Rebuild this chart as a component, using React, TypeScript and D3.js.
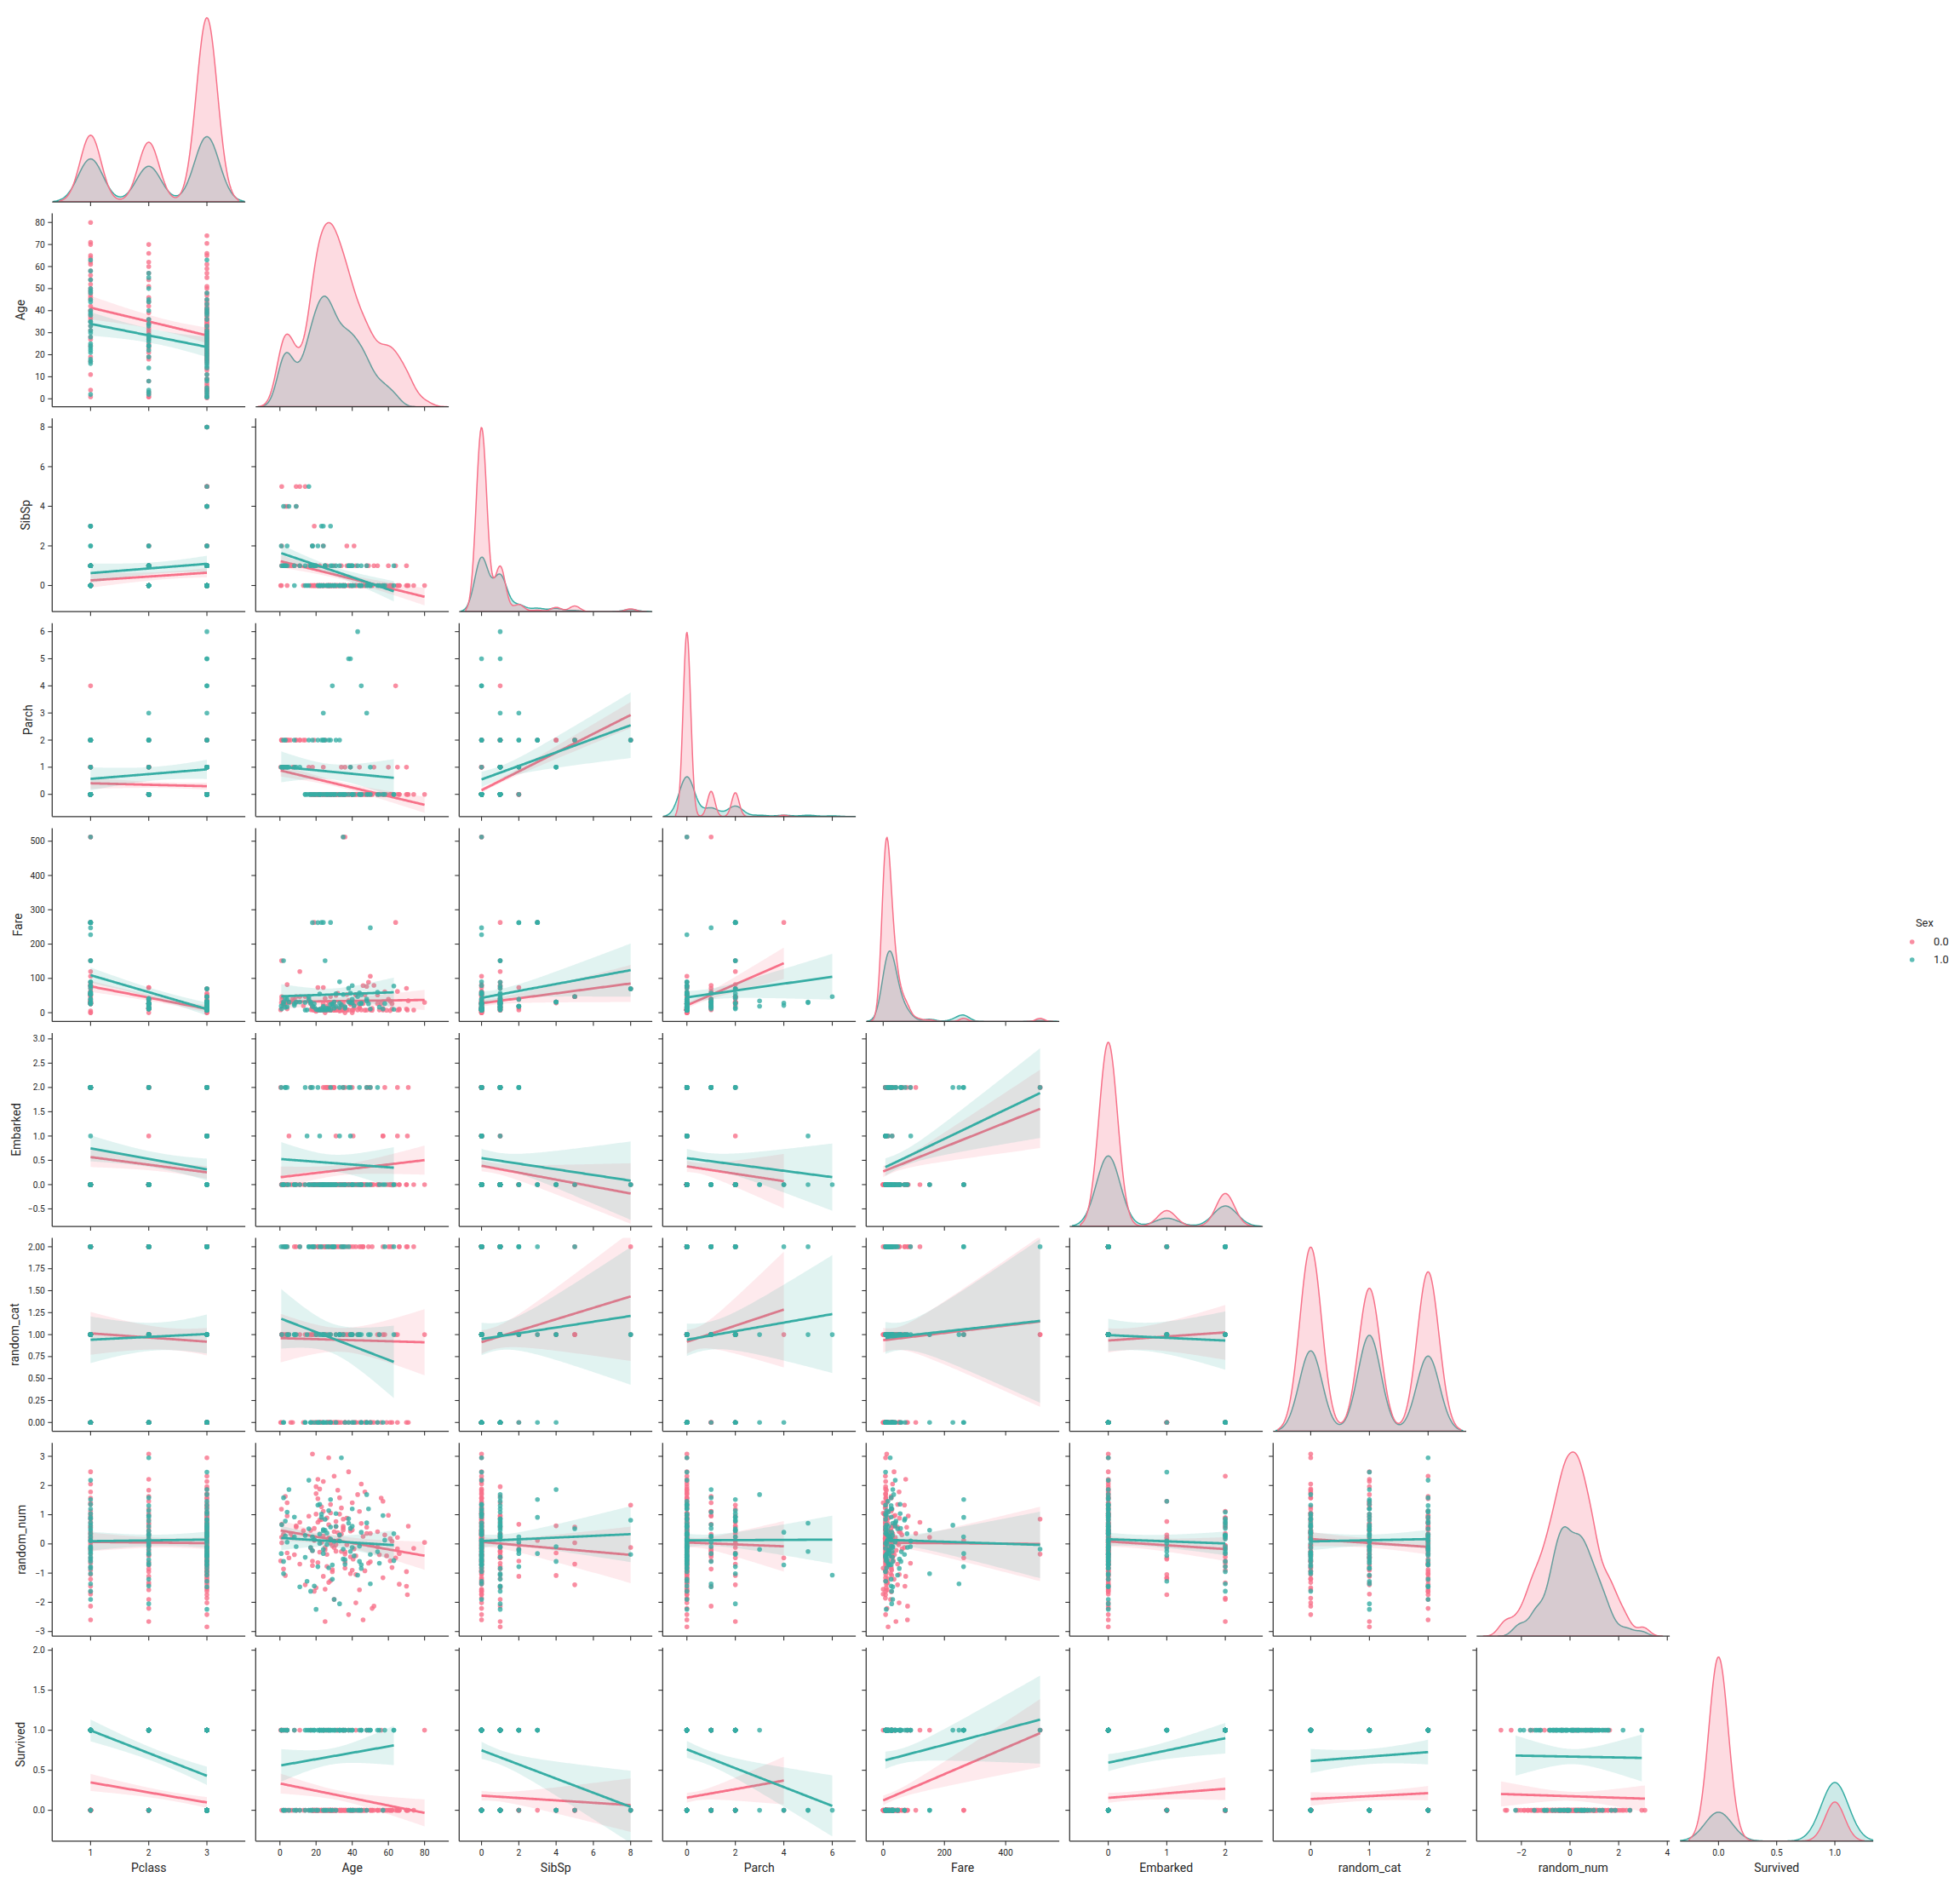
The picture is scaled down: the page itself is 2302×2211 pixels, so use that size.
import React, { useMemo } from "react";
import * as d3 from "d3";

// variables of the pair grid, in order
const VARS = ["Pclass", "Age", "SibSp", "Parch", "Fare", "Embarked", "random_cat", "random_num", "Survived"];
const SEX_LABELS = ["0.0", "1.0"];
const PALETTE = ["#f77189", "#36ada4"];

// each passenger row: [Age, SibSp, Parch, Fare, Embarked, Survived, random_cat, random_num]
const ROW_FIELDS = ["Age", "SibSp", "Parch", "Fare", "Embarked", "Survived", "random_cat", "random_num"];

const maleClass1 = [
  [54, 0, 0, 51.86, 0, 0, 0, 0.42], [null, 0, 0, 35.5, 0, 1, 0, -1.21], [28, 0, 0, 47.1, 0, 0, 1, 1.35],
  [19, 3, 2, 263, 0, 0, 1, 0.12], [64, 1, 4, 263, 0, 0, 1, -0.48], [40, 0, 0, 27.72, 2, 0, 1, -0.9],
  [71, 0, 0, 34.65, 2, 0, 0, 0.61], [47, 0, 0, 52, 0, 0, 0, 1.78], [36, 0, 1, 512.33, 2, 1, 1, -0.35],
  [35, 0, 0, 512.33, 2, 1, 1, 0.85], [0.92, 1, 2, 151.55, 0, 1, 1, 0.23], [null, 0, 0, 26.55, 0, 1, 2, -1.64],
  [45, 0, 0, 30.7, 0, 0, 0, 2.05], [65, 0, 1, 61.98, 2, 0, 1, -0.17], [11, 1, 2, 120, 0, 1, 2, 0.74],
  [52, 1, 1, 79.65, 0, 0, 0, -2.13], [80, 0, 0, 30, 0, 1, 1, 0.05], [49, 1, 0, 89.1, 2, 1, 2, -0.66],
  [24, 0, 1, 26.29, 2, 0, 2, 1.12], [58, 0, 0, 61.18, 2, 0, 1, 0.31], [42, 1, 0, 52.55, 0, 1, 2, -1.05],
  [56, 0, 0, 26.55, 0, 1, 0, 1.57], [null, 0, 0, 42.4, 0, 0, 1, -0.22], [4, 0, 2, 81.86, 0, 1, 2, 0.96],
  [62, 0, 0, 26.55, 0, 0, 0, -0.81], [38, 0, 0, 35.5, 0, 0, 1, 2.47], [31, 0, 0, 50.5, 0, 0, 0, -0.03],
  [48, 1, 0, 76.73, 2, 1, 0, 0.57], [70, 1, 1, 71, 0, 0, 2, -1.45], [27, 0, 0, 30.5, 2, 1, 2, 0.19],
  [46, 0, 0, 79.2, 0, 0, 2, -2.6], [33, 0, 0, 5, 0, 0, 1, 1.02], [61, 0, 0, 33.5, 0, 0, 0, -0.58],
  [37, 1, 0, 53.1, 0, 0, 2, 0.88], [null, 0, 0, 0, 0, 0, 1, -1.72], [50, 0, 0, 106.43, 2, 0, 0, 0.36],
  [17, 0, 0, 26.55, 2, 1, 2, -0.14], [40, 0, 0, 0, 0, 0, 1, 1.41],
];

const maleClass2 = [
  [35, 0, 0, 26, 0, 0, 1, 0.55], [null, 0, 0, 13, 0, 0, 2, -0.73], [0.83, 0, 2, 29, 0, 1, 0, 1.19],
  [66, 0, 0, 10.5, 0, 0, 2, -1.38], [28, 0, 0, 13, 0, 0, 2, 0.02], [42, 0, 0, 26, 0, 0, 0, -0.41],
  [21, 0, 0, 73.5, 0, 0, 1, 2.21], [30, 1, 0, 24, 2, 0, 2, -1.9], [23, 0, 0, 13, 0, 0, 0, 0.83],
  [54, 1, 0, 26, 0, 0, 1, -0.1], [3, 1, 1, 26, 0, 1, 2, 1.63], [70, 0, 0, 10.5, 0, 0, 0, -0.95],
  [34, 0, 0, 21, 0, 0, 2, 0.34], [25, 1, 2, 41.58, 2, 0, 1, -2.66], [null, 0, 0, 0, 0, 0, 0, 1.05],
  [31, 0, 0, 13, 0, 1, 2, -0.25], [1, 2, 1, 39, 0, 1, 1, 0.67], [44, 0, 0, 13, 0, 0, 0, -1.57],
  [19, 0, 0, 10.5, 0, 0, 2, 0.15], [57, 0, 0, 12.35, 1, 0, 1, 1.46], [36, 0, 0, 13, 0, 0, 0, -0.62],
  [60, 1, 1, 39, 0, 0, 2, 0.98], [24, 2, 0, 73.5, 0, 0, 1, -1.11], [18, 0, 0, 11.5, 0, 0, 0, 3.08],
  [8, 1, 1, 36.75, 0, 1, 2, -0.37], [39, 0, 0, 26, 0, 0, 1, 0.44], [29, 0, 0, 27.72, 2, 0, 0, -0.06],
  [51, 0, 0, 12.53, 0, 0, 2, -2.21], [null, 0, 0, 15.05, 2, 0, 1, 0.71], [32, 0, 0, 10.5, 0, 0, 0, 1.84],
  [2, 1, 1, 26, 0, 1, 1, -0.86], [46, 0, 0, 26, 0, 0, 2, 0.26], [27, 0, 0, 13, 0, 0, 0, -1.32],
  [62, 0, 0, 10.5, 0, 0, 2, 0.09],
];

const maleClass3 = [
  [22, 1, 0, 7.25, 0, 0, 0, -0.28], [35, 0, 0, 8.05, 0, 0, 2, 0.61], [null, 0, 0, 8.46, 1, 0, 0, -1.05],
  [2, 1, 1, 21.08, 0, 0, 2, 0.33], [20, 0, 0, 8.05, 0, 0, 0, 1.72], [39, 1, 1, 31.28, 0, 0, 1, -0.44],
  [null, 0, 0, 7.23, 2, 0, 2, 0.9], [19, 0, 0, 7.9, 0, 0, 2, -1.62], [null, 0, 0, 7.75, 1, 0, 1, 0.17],
  [40, 0, 0, 7.9, 0, 0, 0, 0.48], [66, 0, 0, 8.05, 0, 0, 2, -0.33], [28, 0, 0, 7.9, 0, 0, 0, 1.06],
  [42, 0, 0, 52, 0, 0, 0, -2.02], [21, 0, 0, 8.05, 0, 0, 2, 0.74], [18, 2, 0, 18, 0, 0, 1, -0.59],
  [7, 1, 1, 39.69, 0, 0, 0, 0.22], [null, 8, 2, 69.55, 0, 0, 2, -0.12], [null, 8, 2, 69.55, 0, 0, 1, 1.33],
  [26, 1, 0, 14.45, 2, 0, 1, -0.77], [32, 0, 0, 56.5, 0, 1, 0, 0.39], [null, 0, 0, 7.23, 2, 0, 0, -1.86],
  [16, 1, 1, 34.38, 0, 0, 1, 0.95], [25, 0, 0, 7.05, 0, 0, 2, -0.2], [30, 0, 0, 7.23, 2, 0, 2, 2.32],
  [11, 5, 2, 46.9, 0, 0, 1, -0.69], [9, 5, 2, 46.9, 0, 0, 2, 0.58], [14, 5, 2, 46.9, 0, 0, 1, -1.4],
  [1, 5, 2, 46.9, 0, 0, 1, 0.04], [44, 0, 1, 16.1, 0, 0, 2, 1.11], [null, 0, 0, 7.9, 0, 0, 0, -0.51],
  [24, 0, 0, 7.5, 0, 1, 0, 0.27], [29, 0, 0, 9.48, 0, 0, 2, -0.95], [33, 0, 0, 8.65, 0, 0, 0, 1.58],
  [4, 4, 2, 31.39, 0, 0, 1, -0.31], [45, 0, 0, 8.05, 0, 0, 2, 0.7], [null, 1, 0, 15.5, 1, 0, 0, -1.19],
  [17, 0, 0, 8.66, 0, 0, 1, 0.46], [51, 0, 0, 7.05, 0, 0, 0, -0.04], [27, 0, 0, 7.8, 0, 0, 0, 2.95],
  [36, 0, 0, 0, 0, 0, 0, -0.83], [null, 0, 0, 7.75, 1, 0, 2, 0.31], [20, 1, 0, 9.83, 0, 0, 0, -1.5],
  [61, 0, 0, 6.24, 0, 0, 2, 0.18], [34, 1, 1, 14.4, 0, 0, 0, -0.26], [23, 0, 0, 7.85, 0, 0, 0, 1.27],
  [9, 4, 2, 31.28, 0, 0, 1, 0.62], [null, 0, 0, 8.05, 0, 0, 2, -0.7], [38, 0, 0, 7.9, 0, 1, 0, -2.42],
  [26, 0, 0, 18.79, 2, 1, 0, 0.89], [74, 0, 0, 7.78, 0, 0, 2, -0.15], [30, 0, 0, 8.66, 0, 0, 0, 0.42],
  [3, 4, 2, 27.9, 0, 0, 1, -1.08], [null, 0, 0, 7.9, 0, 0, 1, 0.08], [22, 0, 0, 7.78, 0, 0, 0, 1.88],
  [55, 0, 0, 8.05, 0, 0, 1, -0.37], [19, 0, 0, 7.78, 0, 0, 2, 0.53], [47, 0, 0, 7.25, 0, 0, 0, -0.92],
  [4, 1, 1, 11.13, 0, 1, 1, 1.41], [25, 1, 0, 7.78, 0, 0, 2, -0.12], [null, 0, 0, 7.23, 2, 0, 1, -0.45],
  [31, 0, 0, 7.75, 1, 0, 0, 0.77], [28, 0, 0, 7.9, 0, 0, 2, -1.26], [65, 0, 0, 7.75, 1, 0, 0, 0.22],
  [43, 0, 0, 8.05, 0, 0, 1, 1.69], [21, 0, 0, 7.8, 0, 0, 2, -0.64], [6, 1, 2, 31.39, 0, 0, 0, 0.35],
  [37, 2, 0, 7.93, 0, 0, 1, -0.03], [70.5, 0, 0, 7.75, 1, 0, 2, -1.74], [null, 0, 0, 8.05, 0, 0, 0, 0.98],
  [18, 1, 1, 20.21, 0, 0, 1, -0.23], [32, 0, 0, 7.92, 0, 1, 2, 0.11], [0.42, 0, 1, 8.52, 2, 1, 0, -0.58],
  [24, 0, 0, 8.05, 0, 0, 1, 2.14], [59, 0, 0, 7.25, 0, 0, 0, -0.41], [27, 0, 0, 7.9, 0, 0, 0, 0.66],
  [null, 0, 0, 14.46, 2, 0, 1, -1.33], [33, 0, 0, 9.5, 0, 0, 2, 0.29], [41, 2, 0, 14.11, 0, 0, 0, -0.17],
  [20, 0, 0, 4.01, 0, 0, 0, 1.02], [29, 0, 0, 7.92, 0, 0, 2, -0.88], [13, 0, 2, 20.25, 0, 0, 0, 0.45],
  [null, 1, 0, 16.1, 0, 1, 1, -2.84], [23, 0, 0, 7.8, 0, 0, 2, 0.05], [50, 0, 0, 8.05, 0, 0, 0, -0.61],
  [34, 0, 0, 6.5, 0, 0, 1, 1.23], [26, 0, 0, 7.9, 0, 0, 0, -0.36], [22, 0, 0, 7.9, 0, 1, 0, 0.82],
  [null, 0, 0, 7.75, 1, 0, 0, -0.09], [39, 0, 0, 24.15, 0, 0, 2, -1.02], [28, 0, 0, 7.9, 0, 0, 0, 0.14],
  [5, 1, 2, 29.13, 1, 0, 1, -0.48], [21, 0, 0, 8.43, 0, 0, 2, 1.55], [36, 0, 0, 15.55, 0, 0, 0, -0.27],
  [31, 0, 0, 7.78, 0, 0, 1, 0.59], [25, 0, 0, 0, 0, 1, 2, -1.55], [48, 0, 0, 7.85, 0, 0, 0, 0.36],
  [18, 0, 0, 8.05, 0, 0, 0, -0.74], [null, 0, 0, 7.9, 0, 0, 2, 0.71], [30, 0, 0, 9.5, 0, 0, 0, -0.13],
  [20, 1, 0, 7.93, 0, 0, 1, 1.96], [40.5, 0, 0, 7.75, 1, 0, 2, -0.52], [27, 0, 0, 8.05, 0, 0, 0, 0.2],
  [57, 0, 0, 7.75, 1, 0, 2, -1.16], [35, 0, 0, 7.13, 0, 1, 2, 0.48], [null, 0, 0, 7.23, 2, 0, 2, -0.06],
];

const femaleClass1 = [
  [38, 1, 0, 71.28, 2, 1, 0, 0.86], [35, 0, 0, 53.1, 0, 1, 1, -0.52], [58, 0, 0, 26.55, 0, 1, 2, 0.13],
  [2, 1, 2, 151.55, 0, 0, 0, -1.02], [25, 1, 2, 151.55, 0, 0, 1, 0.47], [23, 3, 2, 263, 0, 1, 2, 0.91],
  [24, 3, 2, 263, 0, 1, 0, -0.33], [28, 3, 2, 263, 0, 1, 1, 1.52], [35, 0, 0, 512.33, 2, 1, 2, -0.18],
  [null, 0, 0, 227.53, 2, 1, 0, 0.64], [50, 0, 1, 247.52, 2, 1, 1, -1.37], [18, 2, 2, 262.38, 2, 1, 2, 0.24],
  [21, 2, 2, 262.38, 2, 1, 0, -0.78], [49, 0, 0, 25.93, 0, 1, 1, 1.2], [null, 1, 0, 89.1, 2, 1, 2, -0.09],
  [63, 1, 0, 77.96, 0, 1, 1, 0.35], [44, 0, 0, 57.98, 2, 1, 1, -0.6], [16, 0, 0, 39.4, 0, 1, 2, 2.18],
  [30, 0, 0, 31, 0, 1, 2, -1.9], [39, 1, 1, 57, 2, 1, 1, 0.53], [54, 0, 0, 59.4, 2, 1, 0, -0.27],
  [22, 0, 0, 55, 0, 1, 1, 1.36], [null, 1, 0, 30, 0, 1, 1, -0.45], [48, 0, 0, 39.6, 2, 1, 0, 0.72],
  [17, 1, 0, 27.72, 2, 1, 0, -1.62], [33, 0, 0, 90, 1, 1, 1, 0.1], [45, 1, 0, 52.55, 0, 1, 1, -0.84],
  [31, 0, 2, 55.44, 0, 1, 0, 1.04], [40, 0, 0, 79.2, 0, 1, 1, -0.12],
];

const femaleClass2 = [
  [14, 1, 0, 30.07, 2, 1, 0, 0.29], [55, 0, 0, 16, 0, 1, 1, -0.66], [27, 0, 2, 11.13, 0, 1, 2, 1.14],
  [null, 0, 0, 13, 0, 1, 0, -0.31], [3, 1, 2, 41.58, 2, 1, 2, 0.78], [29, 1, 0, 26, 0, 1, 2, -1.21],
  [24, 0, 2, 14.5, 0, 1, 0, 0.45], [44, 0, 0, 26, 0, 0, 1, -0.08], [34, 0, 0, 23, 0, 1, 2, 2.95],
  [57, 0, 0, 10.5, 0, 0, 0, 0.97], [4, 2, 1, 39, 0, 1, 1, 0.06], [19, 1, 0, 26, 0, 1, 2, -1.44],
  [40, 1, 0, 39, 0, 1, 0, 0.61], [24, 2, 3, 18.75, 0, 1, 1, -0.19], [null, 1, 0, 26, 0, 1, 2, 1.31],
  [36, 0, 0, 13, 0, 1, 0, -0.54], [8, 0, 2, 26.25, 0, 1, 1, 0.92], [50, 0, 0, 10.5, 0, 1, 0, -0.36],
  [28, 1, 0, 24, 2, 1, 0, 0.17], [33, 1, 2, 27.75, 0, 1, 1, -2.05], [22, 0, 0, 10.5, 0, 1, 2, 0.34],
  [45, 0, 0, 26.25, 0, 1, 0, -0.71], [2, 1, 1, 26, 0, 1, 2, 1.58], [26, 0, 0, 13, 0, 0, 2, -0.02],
];

const femaleClass3 = [
  [26, 0, 0, 7.93, 0, 1, 0, 0.37], [27, 0, 0, 11.13, 0, 1, 1, -0.82], [4, 1, 1, 16.7, 2, 1, 2, 1.09],
  [14, 0, 0, 7.85, 0, 0, 0, -0.46], [31, 1, 0, 18, 0, 0, 1, 0.6], [null, 0, 0, 7.88, 1, 1, 2, -0.15],
  [8, 1, 1, 21.08, 0, 0, 1, 0.24], [15, 0, 0, 8.03, 1, 1, 1, -1.28], [38, 1, 5, 31.39, 0, 0, 2, 0.71],
  [2, 4, 1, 31.28, 0, 0, 0, -0.6], [null, 1, 0, 15.5, 1, 1, 1, 1.46], [18, 2, 0, 18, 0, 0, 2, -0.23],
  [22, 0, 0, 7.75, 1, 1, 0, 0.02], [43, 1, 6, 46.9, 0, 0, 1, -1.07], [16, 5, 2, 46.9, 0, 0, 2, 0.52],
  [null, 8, 2, 69.55, 0, 0, 1, -0.36], [null, 8, 2, 69.55, 0, 0, 1, 0.81], [29, 0, 4, 21.08, 0, 0, 2, -0.72],
  [45, 0, 4, 27.9, 0, 0, 0, 0.4], [39, 0, 5, 29.13, 1, 0, 1, -0.26], [40, 1, 0, 27.9, 0, 0, 1, 1.2],
  [48, 1, 3, 34.38, 0, 0, 0, 1.69], [1, 1, 1, 11.13, 0, 1, 1, 0.66], [null, 0, 0, 7.75, 1, 1, 2, -0.4],
  [21, 0, 0, 7.65, 0, 0, 0, 1.33], [9, 4, 1, 31.28, 0, 0, 1, -0.09], [33, 0, 0, 15.25, 2, 1, 1, 0.31],
  [null, 0, 0, 7.23, 2, 0, 0, -0.95], [24, 0, 0, 8.05, 0, 0, 1, 0.49], [63, 0, 0, 9.59, 0, 1, 2, -0.57],
  [5, 4, 1, 31.39, 0, 0, 1, 1.86], [17, 1, 0, 31.28, 0, 0, 0, -0.12], [30, 0, 0, 12.48, 0, 1, 2, 0.09],
  [11, 1, 1, 31.28, 0, 0, 2, -1.47], [25, 1, 0, 7.93, 0, 1, 0, 0.84], [0.75, 2, 1, 19.26, 2, 1, 2, -0.33],
  [19, 1, 0, 16.1, 0, 1, 0, 0.15], [null, 0, 0, 7.75, 1, 0, 1, 2.46], [36, 0, 0, 17.4, 0, 1, 2, -0.7],
  [28, 0, 0, 7.78, 0, 0, 0, 0.58], [20, 1, 0, 9.83, 0, 0, 1, -2.24], [3, 1, 1, 15.9, 2, 0, 2, 0.27],
  [41, 0, 0, 20.21, 0, 0, 0, -0.41], [23, 0, 0, 7.55, 0, 1, 1, 1.02],
];

const GROUPS = [
  { sex: 0, pclass: 1, rows: maleClass1 },
  { sex: 0, pclass: 2, rows: maleClass2 },
  { sex: 0, pclass: 3, rows: maleClass3 },
  { sex: 1, pclass: 1, rows: femaleClass1 },
  { sex: 1, pclass: 2, rows: femaleClass2 },
  { sex: 1, pclass: 3, rows: femaleClass3 },
];

// axis limits (shared per column for x, per row for y)
const X_LIMITS = [[0.34, 3.66], [-13.4, 93.4], [-1.2, 9.16], [-1.0, 6.97], [-55.6, 575], [-0.66, 2.64], [-0.64, 2.65], [-3.84, 4.1], [-0.33, 1.33]];
const Y_LIMITS = [null, [-3.6, 84.1], [-1.32, 8.44], [-0.82, 6.31], [-25.6, 538], [-0.86, 3.12], [-0.1, 2.1], [-3.16, 3.46], [-0.385, 2.03]];

const X_TICKS = [[1, 2, 3], [0, 20, 40, 60, 80], [0, 2, 4, 6, 8], [0, 2, 4, 6], [0, 200, 400], [0, 1, 2], [0, 1, 2], [-2, 0, 2, 4], [0, 0.5, 1]];
const X_TICK_LABELS = [["1", "2", "3"], ["0", "20", "40", "60", "80"], ["0", "2", "4", "6", "8"], ["0", "2", "4", "6"], ["0", "200", "400"], ["0", "1", "2"], ["0", "1", "2"], ["\u22122", "0", "2", "4"], ["0.0", "0.5", "1.0"]];
const Y_TICKS = [[], [0, 10, 20, 30, 40, 50, 60, 70, 80], [0, 2, 4, 6, 8], [0, 1, 2, 3, 4, 5, 6], [0, 100, 200, 300, 400, 500], [-0.5, 0, 0.5, 1, 1.5, 2, 2.5, 3], [0, 0.25, 0.5, 0.75, 1, 1.25, 1.5, 1.75, 2], [-3, -2, -1, 0, 1, 2, 3], [0, 0.5, 1, 1.5, 2]];
const Y_TICK_LABELS = [[], ["0", "10", "20", "30", "40", "50", "60", "70", "80"], ["0", "2", "4", "6", "8"], ["0", "1", "2", "3", "4", "5", "6"], ["0", "100", "200", "300", "400", "500"], ["\u22120.5", "0.0", "0.5", "1.0", "1.5", "2.0", "2.5", "3.0"], ["0.00", "0.25", "0.50", "0.75", "1.00", "1.25", "1.50", "1.75", "2.00"], ["\u22123", "\u22122", "\u22121", "0", "1", "2", "3"], ["0.0", "0.5", "1.0", "1.5", "2.0"]];
// how far each y label's ink hangs below its baseline
const LABEL_DESCENT = { Age: 3, SibSp: 3, random_cat: 2, random_num: 2 };

// layout
const WIDTH = 2302, HEIGHT = 2211;
const PANEL_W = 226.8, PANEL_H = 227;
const colLeft = (c) => 61.3 + 239 * c;
const rowBottom = (r) => 237 + 240.6 * r;
const FONT = "Roboto, 'DejaVu Sans', sans-serif";
const TICK_FS = 10.2, LABEL_FS = 14, LEGEND_FS = 12.8;
const INK = "#262626";
const SPINE = "#333333";
const KDE_BW_ADJUST = 0.62;

let measureCtx = null;
function textWidth(s, size) {
  if (!measureCtx && typeof document !== "undefined") measureCtx = document.createElement("canvas").getContext("2d");
  if (!measureCtx) return s.length * size * 0.56;
  measureCtx.font = `${size}px Roboto`;
  return measureCtx.measureText(s).width;
}

function kdeCurve(vals, nTotal) {
  const n = vals.length;
  const bw = d3.deviation(vals) * Math.pow(n, -0.2) * KDE_BW_ADJUST;
  const [lo, hi] = d3.extent(vals);
  const k = 1 / (nTotal * bw * Math.sqrt(2 * Math.PI));
  return d3.range(200).map((i) => {
    const x = lo - 3 * bw + ((hi - lo + 6 * bw) * i) / 199;
    return [x, k * d3.sum(vals, (v) => Math.exp(-0.5 * ((x - v) / bw) ** 2))];
  });
}

function fitLine(xs, ys) {
  const n = xs.length;
  const mx = d3.mean(xs), my = d3.mean(ys);
  let sxx = 0, sxy = 0;
  for (let i = 0; i < n; i++) { sxx += (xs[i] - mx) ** 2; sxy += (xs[i] - mx) * (ys[i] - my); }
  const b = sxx > 0 ? sxy / sxx : 0;
  const a = my - b * mx;
  let sse = 0;
  for (let i = 0; i < n; i++) sse += (ys[i] - a - b * xs[i]) ** 2;
  const s2 = sse / Math.max(1, n - 2);
  const [lo, hi] = d3.extent(xs);
  return d3.range(100).map((i) => {
    const x = lo + ((hi - lo) * i) / 99;
    const y = a + b * x;
    const se = Math.sqrt(s2 * (1 / n + (sxx > 0 ? (x - mx) ** 2 / sxx : 0)));
    return { x, y, lo: y - 1.96 * se, hi: y + 1.96 * se };
  });
}

const has = (v) => v !== null && v !== undefined;

export default function App() {
  const records = useMemo(() => {
    const out = [];
    GROUPS.forEach((g) => g.rows.forEach((row) => {
      const rec = { Pclass: g.pclass, Sex: g.sex };
      ROW_FIELDS.forEach((f, i) => { rec[f] = row[i]; });
      out.push(rec);
    }));
    return out;
  }, []);

  const xScales = X_LIMITS.map((lim, c) => d3.scaleLinear().domain(lim).range([colLeft(c), colLeft(c) + PANEL_W]));
  const yScales = Y_LIMITS.map((lim, r) => lim ? d3.scaleLinear().domain(lim).range([rowBottom(r), rowBottom(r) - PANEL_H]) : null);

  const panels = [];
  const axes = [];

  for (let r = 0; r < VARS.length; r++) {
    for (let c = 0; c <= r; c++) {
      const xv = VARS[c], yv = VARS[r];
      const xs = xScales[c];
      const left = colLeft(c), bottom = rowBottom(r), top = bottom - PANEL_H;
      const clipId = `clip-${r}-${c}`;

      if (r === c) {
        // diagonal: kde per sex, drawn 1.0 first then 0.0
        const valid = records.filter((d) => has(d[xv]));
        const curves = [1, 0].map((s) => ({ s, pts: kdeCurve(valid.filter((d) => d.Sex === s).map((d) => d[xv]), valid.length) }));
        const maxD = d3.max(curves, (cv) => d3.max(cv.pts, (p) => p[1]));
        const yk = d3.scaleLinear().domain([0, maxD * 1.05]).range([bottom, top]);
        const area = d3.area().x((p) => xs(p[0])).y0(yk(0)).y1((p) => yk(p[1]));
        panels.push(
          <g key={`p${r}${c}`} clipPath={`url(#${clipId})`}>
            {curves.map((cv) => (
              <path key={cv.s} d={area(cv.pts)} fill={PALETTE[cv.s]} fillOpacity={0.25} stroke={PALETTE[cv.s]} strokeWidth={1.5} strokeLinejoin="round" />
            ))}
          </g>
        );
      } else {
        const ys = yScales[r];
        const layers = [0, 1].map((s) => {
          const pts = records.filter((d) => d.Sex === s && has(d[xv]) && has(d[yv]));
          const fit = fitLine(pts.map((d) => d[xv]), pts.map((d) => d[yv]));
          const band = d3.area().x((p) => xs(p.x)).y0((p) => ys(p.lo)).y1((p) => ys(p.hi));
          const line = d3.line().x((p) => xs(p.x)).y((p) => ys(p.y));
          return (
            <g key={s}>
              {pts.map((d, i) => (
                <circle key={i} cx={xs(d[xv])} cy={ys(d[yv])} r={2.8} fill={PALETTE[s]} fillOpacity={0.8} />
              ))}
              <path d={band(fit)} fill={PALETTE[s]} fillOpacity={0.15} />
              <path d={line(fit)} fill="none" stroke={PALETTE[s]} strokeWidth={2.8} />
            </g>
          );
        });
        panels.push(<g key={`p${r}${c}`} clipPath={`url(#${clipId})`}>{layers}</g>);
      }

      // axes
      const isBottom = r === VARS.length - 1;
      const xTicks = X_TICKS[c].map((v, i) => (
        <g key={`xt${i}`}>
          <line x1={xs(v)} x2={xs(v)} y1={bottom} y2={bottom + 5} stroke={SPINE} strokeWidth={1.1} />
          {isBottom && (
            <text x={xs(v)} y={bottom + 17.5} textAnchor="middle" fontSize={TICK_FS} fill={INK}>{X_TICK_LABELS[c][i]}</text>
          )}
        </g>
      ));
      let yAxis = null;
      if (r !== c) {
        const ys = yScales[r];
        yAxis = (
          <g>
            <line x1={left} x2={left} y1={top} y2={bottom} stroke={SPINE} strokeWidth={1.25} />
            {Y_TICKS[r].map((v, i) => (
              <g key={`yt${i}`}>
                <line x1={left - 5} x2={left} y1={ys(v)} y2={ys(v)} stroke={SPINE} strokeWidth={1.1} />
                {c === 0 && (
                  <text x={left - 8.5} y={ys(v) + 3.6} textAnchor="end" fontSize={TICK_FS} fill={INK}>{Y_TICK_LABELS[r][i]}</text>
                )}
              </g>
            ))}
          </g>
        );
      }
      axes.push(
        <g key={`a${r}${c}`}>
          <line x1={left} x2={left + PANEL_W} y1={bottom} y2={bottom} stroke={SPINE} strokeWidth={1.25} />
          {xTicks}
          {yAxis}
          {isBottom && (
            <text x={left + PANEL_W / 2} y={bottom + 36} textAnchor="middle" fontSize={LABEL_FS} fill={INK}>{xv}</text>
          )}
        </g>
      );
    }
  }

  // y labels for the first column (rows 1..8)
  const yLabels = VARS.map((v, r) => {
    if (r === 0) return null;
    const maxW = d3.max(Y_TICK_LABELS[r], (s) => textWidth(s, TICK_FS));
    const x = colLeft(0) - 8.5 - maxW - 9.2 - (LABEL_DESCENT[v] || 0);
    const cy = rowBottom(r) - PANEL_H / 2;
    return (
      <text key={`yl${r}`} transform={`translate(${x},${cy}) rotate(-90)`} textAnchor="middle" fontSize={LABEL_FS} fill={INK}>{v}</text>
    );
  });

  const clips = [];
  for (let r = 0; r < VARS.length; r++) {
    for (let c = 0; c <= r; c++) {
      clips.push(
        <clipPath key={`c${r}${c}`} id={`clip-${r}-${c}`}>
          <rect x={colLeft(c)} y={rowBottom(r) - PANEL_H} width={PANEL_W} height={PANEL_H} />
        </clipPath>
      );
    }
  }

  return (
    <svg width={WIDTH} height={HEIGHT} style={{ position: "absolute", left: 0, top: 0, background: "#fff" }} fontFamily={FONT}>
      <defs>{clips}</defs>
      <rect x={0} y={0} width={WIDTH} height={HEIGHT} fill="#fff" />
      {panels}
      {axes}
      {yLabels}
      <g>
        <text x={2250} y={1088.3} fontSize={LEGEND_FS} fill={INK}>Sex</text>
        {SEX_LABELS.map((lab, i) => (
          <g key={lab}>
            <circle cx={2245.7} cy={1106 + 21 * i} r={2.8} fill={PALETTE[i]} fillOpacity={0.8} />
            <text x={2271} y={1110.3 + 21 * i} fontSize={LEGEND_FS} fill={INK}>{lab}</text>
          </g>
        ))}
      </g>
    </svg>
  );
}
